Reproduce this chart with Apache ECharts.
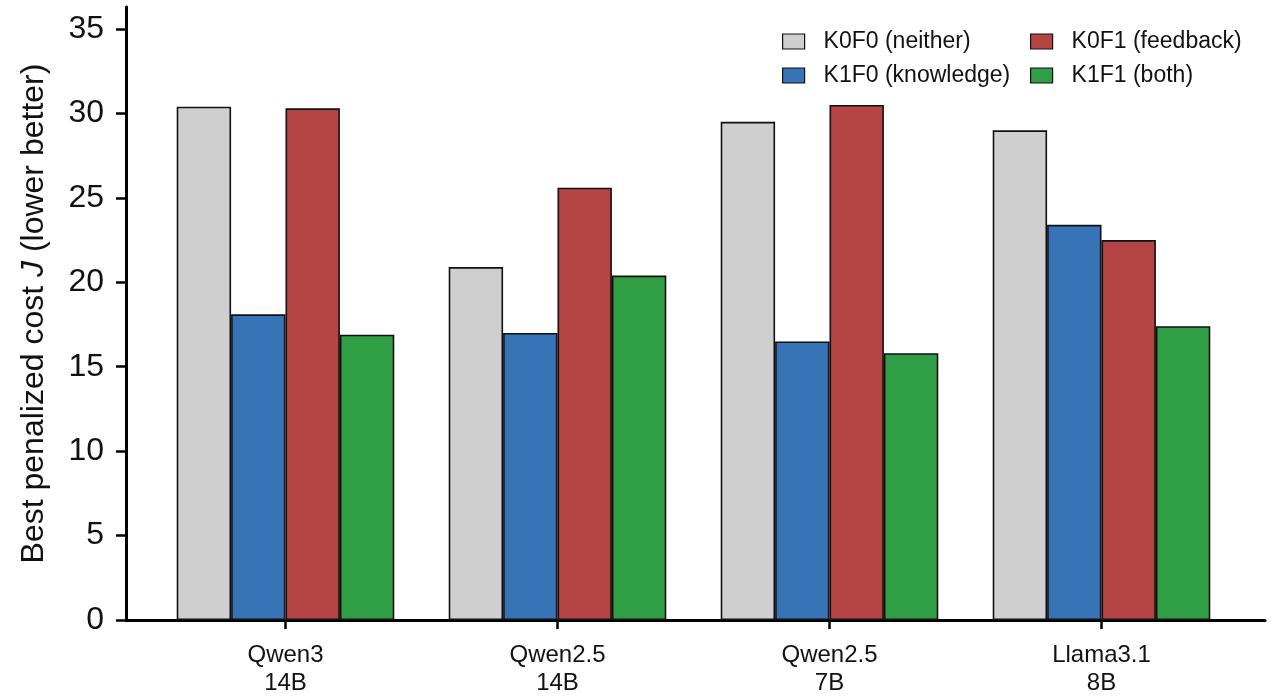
<!DOCTYPE html>
<html>
<head>
<meta charset="utf-8">
<script src="https://cdn.jsdelivr.net/npm/echarts@6/dist/echarts.min.js"></script>
<style>
  html, body { margin:0; padding:0; background:#fff; }
  #chart { width:1280px; height:700px; }
</style>
</head>
<body>
<div id="chart"></div>
<script>
// chart values
var categories = ['Qwen3\n14B', 'Qwen2.5\n14B', 'Qwen2.5\n7B', 'Llama3.1\n8B'];
var seriesNames = ['K0F0 (neither)', 'K1F0 (knowledge)', 'K0F1 (feedback)', 'K1F1 (both)'];
var k0f0 = [30.4, 20.9, 29.5, 29.0];
var k1f0 = [18.1, 17.0, 16.5, 23.4];
var k0f1 = [30.3, 25.6, 30.5, 22.5];
var k1f1 = [16.9, 20.4, 15.8, 17.4];
var yTicks = [0, 35, 5];   // min, max, interval

var colors = ['#cfcfcf', '#3674b7', '#b54545', '#2f9e45'];
var values = [k0f0, k1f0, k0f1, k1f1];
var FONT = 'Liberation Sans, Arial, Helvetica, sans-serif';

var series = [];
for (var i = 0; i < seriesNames.length; i++) {
  series.push({
    name: seriesNames[i],
    type: 'bar',
    xAxisIndex: 1,
    yAxisIndex: 1,
    barGap: '0%',
    barCategoryGap: '20%',
    itemStyle: { color: colors[i], borderColor: '#111', borderWidth: 1.6 },
    emphasis: { disabled: true },
    data: values[i]
  });
}

function legendBox(left, names) {
  return {
    orient: 'vertical',
    left: left,
    top: 25,
    itemWidth: 22,
    itemHeight: 15,
    itemGap: 11,
    icon: 'rect',
    selectedMode: false,
    data: names.map(function (n) {
      return { name: n, itemStyle: { borderColor: '#111', borderWidth: 1.2 } };
    }),
    textStyle: { fontFamily: FONT, fontSize: 23, color: '#111', padding: [0, 0, 0, 14] }
  };
}

var chart = echarts.init(document.getElementById('chart'));
chart.setOption({
  backgroundColor: '#fff',
  animation: false,
  legend: [
    legendBox(777, [seriesNames[0], seriesNames[1]]),
    legendBox(1025, [seriesNames[2], seriesNames[3]])
  ],
  grid: [
    // frame: the long axis lines
    { left: 126, right: 15, top: 7, bottom: 80 },
    // bars
    { left: 149.5, width: 1088, top: 29, bottom: 80 }
  ],
  xAxis: [
    {
      gridIndex: 0, type: 'value', min: 0, max: 1,
      axisLine: { show: true, lineStyle: { color: '#000', width: 3 } },
      axisTick: { show: false }, axisLabel: { show: false }, splitLine: { show: false }
    },
    {
      gridIndex: 1, type: 'category', data: categories,
      axisLine: { show: false },
      axisTick: { show: true, alignWithLabel: true, length: 9, lineStyle: { color: '#000', width: 2.5 } },
      axisLabel: { fontFamily: FONT, fontSize: 24, color: '#111', lineHeight: 28, margin: 21 },
      splitLine: { show: false }
    }
  ],
  yAxis: [
    {
      gridIndex: 0, type: 'value', min: 0, max: 1,
      axisLine: { show: true, lineStyle: { color: '#000', width: 3 } },
      axisTick: { show: false }, axisLabel: { show: false }, splitLine: { show: false },
      name: 'Best penalized cost {i|J} (lower better)',
      nameLocation: 'middle',
      nameGap: 76,
      nameTextStyle: {
        fontFamily: FONT, fontSize: 32, color: '#111',
        rich: { i: { fontFamily: FONT, fontSize: 32, fontStyle: 'italic', color: '#111' } }
      }
    },
    {
      gridIndex: 1, type: 'value', min: yTicks[0], max: yTicks[1], interval: yTicks[2],
      offset: 23.5,
      axisLine: { show: false },
      axisTick: { show: true, length: 10, lineStyle: { color: '#000', width: 2.5 } },
      axisLabel: { fontFamily: FONT, fontSize: 32, color: '#111', margin: 22 },
      splitLine: { show: false }
    }
  ],
  series: series
});
</script>
</body>
</html>
